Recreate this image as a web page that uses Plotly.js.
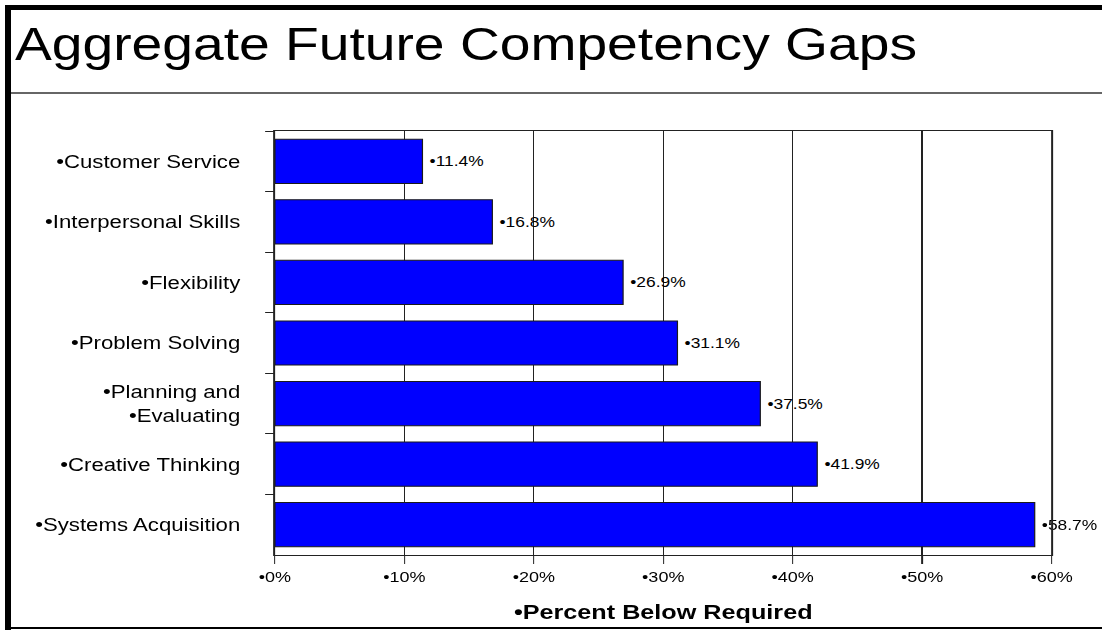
<!DOCTYPE html>
<html>
<head>
<meta charset="utf-8">
<script src="https://cdn.plot.ly/plotly-3.0.1.min.js"></script>
<style>
  html, body { margin: 0; padding: 0; background: #fff; overflow: hidden; }
  #stage { position: absolute; left: 0; top: 0; width: 1102px; height: 630px; }
  #chart { position: absolute; left: 0; top: 0; width: 918px; height: 630px;
           transform-origin: 0 0; transform: scaleX(1.2004); }
  .rule { position: absolute; }
</style>
</head>
<body>
<div id="stage">
  <div id="chart"></div>
  <div class="rule" style="left:5px;top:5px;width:1097px;height:5px;background:#000;"></div>
  <div class="rule" style="left:5px;top:5px;width:6px;height:625px;background:#000;"></div>
  <div class="rule" style="left:5px;top:627px;width:1097px;height:2px;background:#000;"></div>
  <div class="rule" style="left:11px;top:92px;width:1091px;height:2px;background:#666;"></div>
</div>
<script>
// ---- data ----
const categories = [
  "•Customer Service",
  "•Interpersonal Skills",
  "•Flexibility",
  "•Problem Solving",
  "•Planning and<br>•Evaluating",
  "•Creative Thinking",
  "•Systems Acquisition"
];
const percentBelowRequired = [11.4, 16.8, 26.9, 31.1, 37.5, 41.9, 58.7];
const xTickValues = [0, 10, 20, 30, 40, 50, 60];
const xTickLabels = ["•0%", "•10%", "•20%", "•30%", "•40%", "•50%", "•60%"];
const chartTitle = "Aggregate Future Competency Gaps";
const xAxisTitle = "•Percent Below Required";

const FONT = "'Liberation Sans', Arial, sans-serif";

const trace = {
  type: "bar",
  orientation: "h",
  y: categories,
  x: percentBelowRequired,
  marker: { color: "#0000FF", line: { color: "#1a1a1a", width: 1 } },
  texttemplate: "\u2009•%{x:.1f}%",
  textposition: "outside",
  constraintext: "none",
  cliponaxis: false,
  outsidetextfont: { family: FONT, size: 14.5, color: "#000" },
  hoverinfo: "skip"
};

const layout = {
  width: 918,
  height: 630,
  paper_bgcolor: "rgba(0,0,0,0)",
  plot_bgcolor: "#fff",
  showlegend: false,
  bargap: 0.27,
  margin: { l: 229, r: 42, t: 131, b: 75, pad: 0 },
  font: { family: FONT, color: "#000" },
  title: {
    text: chartTitle,
    font: { family: FONT, size: 46, color: "#000" },
    xref: "container", x: 12.5 / 918, xanchor: "left",
    yref: "container", y: 1 - 43.5 / 630, yanchor: "middle"
  },
  xaxis: {
    range: [0, 60],
    tickmode: "array",
    tickvals: xTickValues,
    ticktext: xTickLabels,
    tickfont: { family: FONT, size: 15, color: "#000" },
    ticks: "outside",
    ticklen: 8,
    tickwidth: 1,
    tickcolor: "#222",
    showgrid: true,
    gridcolor: "#222",
    gridwidth: 1.1,
    zeroline: false,
    showline: true,
    linecolor: "#222",
    linewidth: 1.1,
    mirror: true,
    fixedrange: true,
    title: {
      text: xAxisTitle,
      font: { family: FONT, size: 21, color: "#000", weight: "bold" },
      standoff: 20
    }
  },
  yaxis: {
    type: "category",
    autorange: "reversed",
    tickson: "boundaries",
    ticks: "outside",
    ticklen: 7,
    tickwidth: 1,
    tickcolor: "#222",
    ticklabelstandoff: 24,
    tickfont: { family: FONT, size: 18.5, color: "#000" },
    showgrid: false,
    zeroline: false,
    showline: true,
    linecolor: "#222",
    linewidth: 1.1,
    mirror: true,
    fixedrange: true
  }
};

Plotly.newPlot("chart", [trace], layout, { displayModeBar: false, staticPlot: true });
</script>
</body>
</html>
